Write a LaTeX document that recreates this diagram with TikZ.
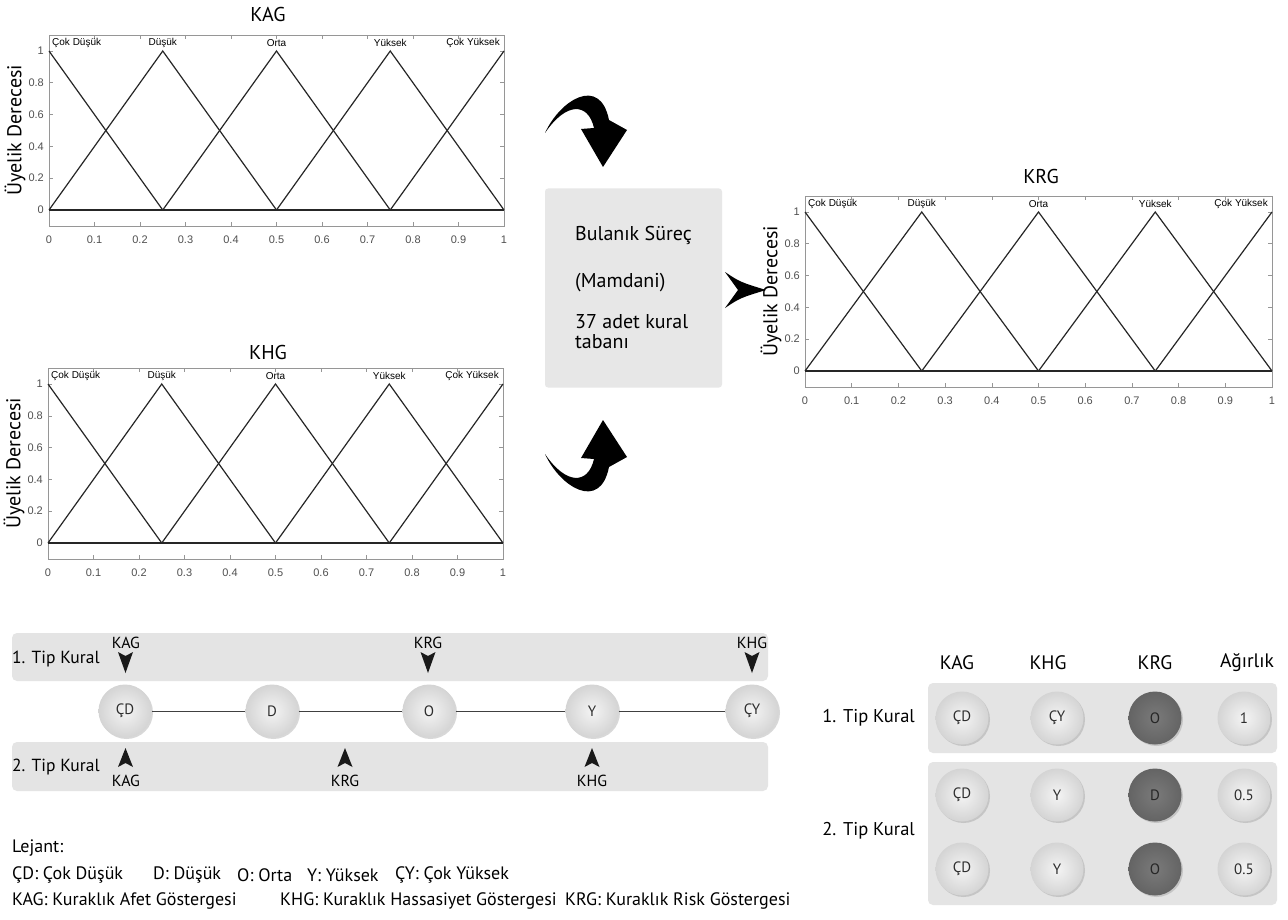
\documentclass[tikz,border=0pt]{standalone}
\usepackage{fontspec}
\setmainfont{PT Sans}
\newfontfamily\plotfont{Liberation Sans}
\usetikzlibrary{shadows}

\definecolor{bandgray}{RGB}{228,228,228}
\definecolor{boxgray}{RGB}{231,231,231}
\definecolor{framegray}{RGB}{150,150,150}
\definecolor{ticktext}{RGB}{80,80,80}
\definecolor{ballhi}{RGB}{244,244,244}
\definecolor{balllo}{RGB}{212,212,212}
\definecolor{darkballhi}{RGB}{122,122,122}
\definecolor{darkballlo}{RGB}{100,100,100}
\definecolor{balltext}{RGB}{45,45,45}

\tikzset{
  frame/.style={draw=framegray, line width=0.8pt},
  tickmark/.style={draw=framegray, line width=0.6pt},
  mf/.style={draw=black!85, line width=1.2pt, line join=miter},
  ticklabel/.style={font=\plotfont\fontsize{11}{11}\selectfont, text=ticktext, inner sep=0pt},
  setlabel/.style={font=\plotfont\fontsize{10}{10}\selectfont, inner sep=0pt},
  plottitle/.style={font=\fontsize{20}{20}\selectfont, inner sep=0pt},
  ylab/.style={font=\fontsize{20}{20}\selectfont, rotate=90, inner sep=0pt},
  procbox/.style={fill=boxgray, rounded corners=3pt, inner sep=0pt},
  proctext/.style={font=\fontsize{20}{20}\selectfont, anchor=west, inner sep=0pt},
  band/.style={fill=bandgray, rounded corners=5pt, inner sep=0pt},
  rowlabel/.style={font=\fontsize{17.5}{17.5}\selectfont, inner sep=0pt},
  tablerow/.style={font=\fontsize{18.5}{18.5}\selectfont, inner sep=0pt},
  ptrlabel/.style={font=\fontsize{16}{16}\selectfont, inner sep=1pt},
  pointerhead/.style={fill=black!90},
  chainline/.style={draw=black!75, line width=1pt},
  lvl/.style={circle, minimum size=53pt, inner sep=0pt, shading=radial,
    inner color=ballhi, outer color=balllo, text=balltext,
    font=\fontsize{15}{15}\selectfont,
    drop shadow={shadow xshift=1.5pt, shadow yshift=-1.5pt, opacity=0.3}},
  darklvl/.style={lvl, inner color=darkballhi, outer color=darkballlo, text=black!85},
  headlabel/.style={font=\fontsize{19.5}{19.5}\selectfont, inner sep=0pt},
  legend/.style={font=\fontsize{18}{18}\selectfont, anchor=west, inner sep=0pt}
}

% membership-function panel: #1 name prefix, #2/#3 position of (0,0), #4 axis width
\newcommand{\mfpanel}[4]{%
\begin{scope}[shift={(#2,#3)}, x=#4pt, y=159pt]
  \draw[frame] (0,-0.1) rectangle (1,1.1);
  \foreach \v [count=\idx] in {0,0.1,0.2,0.3,0.4,0.5,0.6,0.7,0.8,0.9,1}{
    \draw[tickmark] (\v,-0.1) -- ++(0,4pt);
    \draw[tickmark] (\v,1.1) -- ++(0,-4pt);
    \node[ticklabel] (#1-x\idx) at ([yshift=-14pt]\v,-0.1) {\v};
  }
  \foreach \v [count=\idx] in {0,0.2,0.4,0.6,0.8,1}{
    \draw[tickmark] (0,\v) -- ++(4pt,0);
    \draw[tickmark] (1,\v) -- ++(-4pt,0);
    \node[ticklabel, anchor=east] (#1-y\idx) at ([xshift=-5pt]0,\v) {\v};
  }
  \draw[mf] (0,0) -- (1,0);
  \draw[mf] (0,1) -- (0.25,0);
  \draw[mf] (0,0) -- (0.25,1) -- (0.5,0);
  \draw[mf] (0.25,0) -- (0.5,1) -- (0.75,0);
  \draw[mf] (0.5,0) -- (0.75,1) -- (1,0);
  \draw[mf] (0.75,0) -- (1,1);
  \node[setlabel, anchor=west] (#1-cd) at ([xshift=3pt]0,1.05) {Çok Düşük};
  \node[setlabel] (#1-d) at (0.25,1.05) {Düşük};
  \node[setlabel] (#1-o) at (0.5,1.05) {Orta};
  \node[setlabel] (#1-y) at (0.75,1.05) {Yüksek};
  \node[setlabel, anchor=east] (#1-cy) at ([xshift=-4pt]1,1.05) {Çok Yüksek};
  \node[ylab] (#1-ylab) at ([xshift=-34pt]0,0.5) {Üyelik Derecesi};
\end{scope}}

% thick curved arrow bending down into the process box
\newcommand{\bentarrow}{%
  (545,133) .. controls (560,100) and (600,75) .. (609,120)
  -- (627,130) -- (603,167) -- (581,129) -- (594,128)
  .. controls (588,102) and (566,102) .. (545,133) -- cycle}

% small notched arrowheads; the argument is the tip
\newcommand{\downhead}[1]{\fill[pointerhead] (#1) -- ++(-7.5,-21) -- ++(7.5,4) -- ++(7.5,-4) -- cycle;}
\newcommand{\uphead}[1]{\fill[pointerhead] (#1) -- ++(-7.5,19) -- ++(7.5,-4) -- ++(7.5,4) -- cycle;}

\begin{document}
\begin{tikzpicture}[x=1pt, y=-1pt]
\useasboundingbox (0,0) rectangle (1288,920);
\fill[white] (0,0) rectangle (1288,920);

% ---------- input and output sets ----------
\mfpanel{kag}{49}{210}{455}
\node[plottitle] (kagtitle) at (268,15) {KAG};
\mfpanel{khg}{48}{543}{455}
\node[plottitle] (khgtitle) at (268,352) {KHG};
\mfpanel{krg}{805}{371}{467}
\node[plottitle] (krgtitle) at (1041,177) {KRG};

% ---------- inference block ----------
\node[procbox, minimum width=177pt, minimum height=199pt] (proc) at (633.5,288) {};
\node[proctext] (proc1) at (575,235) {Bulanık Süreç};
\node[proctext] (proc2) at (575,283) {(Mamdani)};
\node[proctext] (proc3) at (575,322) {37 adet kural};
\node[proctext] (proc4) at (575,342) {tabanı};

\fill[black] \bentarrow;
\begin{scope}[shift={(0,587)}, yscale=-1]
  \fill[black] \bentarrow;
\end{scope}
\coordinate (outtip) at (766,290);
\fill[black] (725,272) .. controls (740,282) .. (outtip)
  .. controls (740,298) .. (725,308) -- (738,290) -- cycle;

% ---------- rule types on the linguistic scale ----------
\node[band, minimum width=756pt, minimum height=48pt] (scaleband1) at (390,657) {};
\node[band, minimum width=756pt, minimum height=49pt] (scaleband2) at (390,766.5) {};
\node[rowlabel, anchor=west] (scalelab1) at (12,659) {1. Tip Kural};
\node[rowlabel, anchor=west] (scalelab2) at (12,767) {2. Tip Kural};

\node[lvl] (cd) at (125,711) {ÇD};
\node[lvl] (d) at (272,711) {D};
\node[lvl] (o) at (429,711) {O};
\node[lvl] (y) at (592,711) {Y};
\node[lvl] (cy) at (752,711) {ÇY};
\draw[chainline] (cd) -- (d);
\draw[chainline] (d) -- (o);
\draw[chainline] (o) -- (y);
\draw[chainline] (y) -- (cy);

\node[ptrlabel] (t1kag) at (126,643) {KAG};
\node[ptrlabel] (t1krg) at (428,643) {KRG};
\node[ptrlabel] (t1khg) at (752,643) {KHG};
\coordinate (t1kagtip) at (125.5,673);
\coordinate (t1krgtip) at (428,673);
\coordinate (t1khgtip) at (752,673);
\downhead{t1kagtip}
\downhead{t1krgtip}
\downhead{t1khgtip}

\node[ptrlabel] (t2kag) at (126,781) {KAG};
\node[ptrlabel] (t2krg) at (345,781) {KRG};
\node[ptrlabel] (t2khg) at (592,781) {KHG};
\coordinate (t2kagtip) at (125.5,748);
\coordinate (t2krgtip) at (345,748);
\coordinate (t2khgtip) at (592,748);
\uphead{t2kagtip}
\uphead{t2krgtip}
\uphead{t2khgtip}

% ---------- rule table ----------
\node[headlabel] (hkag) at (957,663) {KAG};
\node[headlabel] (hkhg) at (1048,663) {KHG};
\node[headlabel] (hkrg) at (1155,663) {KRG};
\node[headlabel] (hw) at (1247,663) {Ağırlık};

\node[band, minimum width=349pt, minimum height=70pt] (tband1) at (1102.5,718) {};
\node[band, minimum width=349pt, minimum height=143pt] (tband2) at (1102.5,833.5) {};
\node[tablerow, anchor=east] (tlab1) at (915,718) {1. Tip Kural};
\node[tablerow, anchor=east] (tlab2) at (915,831) {2. Tip Kural};

\node[lvl] (r1a) at (962,718) {ÇD};
\node[lvl] (r1b) at (1057,718) {ÇY};
\node[darklvl] (r1c) at (1155,718) {O};
\node[lvl] (r1d) at (1244,718) {1};

\node[lvl] (r2a) at (962,795) {ÇD};
\node[lvl] (r2b) at (1057,795) {Y};
\node[darklvl] (r2c) at (1155,795) {D};
\node[lvl] (r2d) at (1244,795) {0.5};

\node[lvl] (r3a) at (962,869) {ÇD};
\node[lvl] (r3b) at (1057,869) {Y};
\node[darklvl] (r3c) at (1155,869) {O};
\node[lvl] (r3d) at (1244,869) {0.5};

% ---------- legend ----------
\node[legend] (leg0) at (12,848) {Lejant:};
\node[legend] (leg1) at (12,875) {ÇD: Çok Düşük};
\node[legend] (leg2) at (153,875) {D: Düşük};
\node[legend] (leg3) at (237,875) {O: Orta};
\node[legend] (leg4) at (307,875) {Y: Yüksek};
\node[legend] (leg5) at (395,875) {ÇY: Çok Yüksek};
\node[legend] (leg6) at (12,901) {KAG: Kuraklık Afet Göstergesi};
\node[legend] (leg7) at (280,901) {KHG: Kuraklık Hassasiyet Göstergesi};
\node[legend] (leg8) at (565,901) {KRG: Kuraklık Risk Göstergesi};
\end{tikzpicture}
\end{document}
